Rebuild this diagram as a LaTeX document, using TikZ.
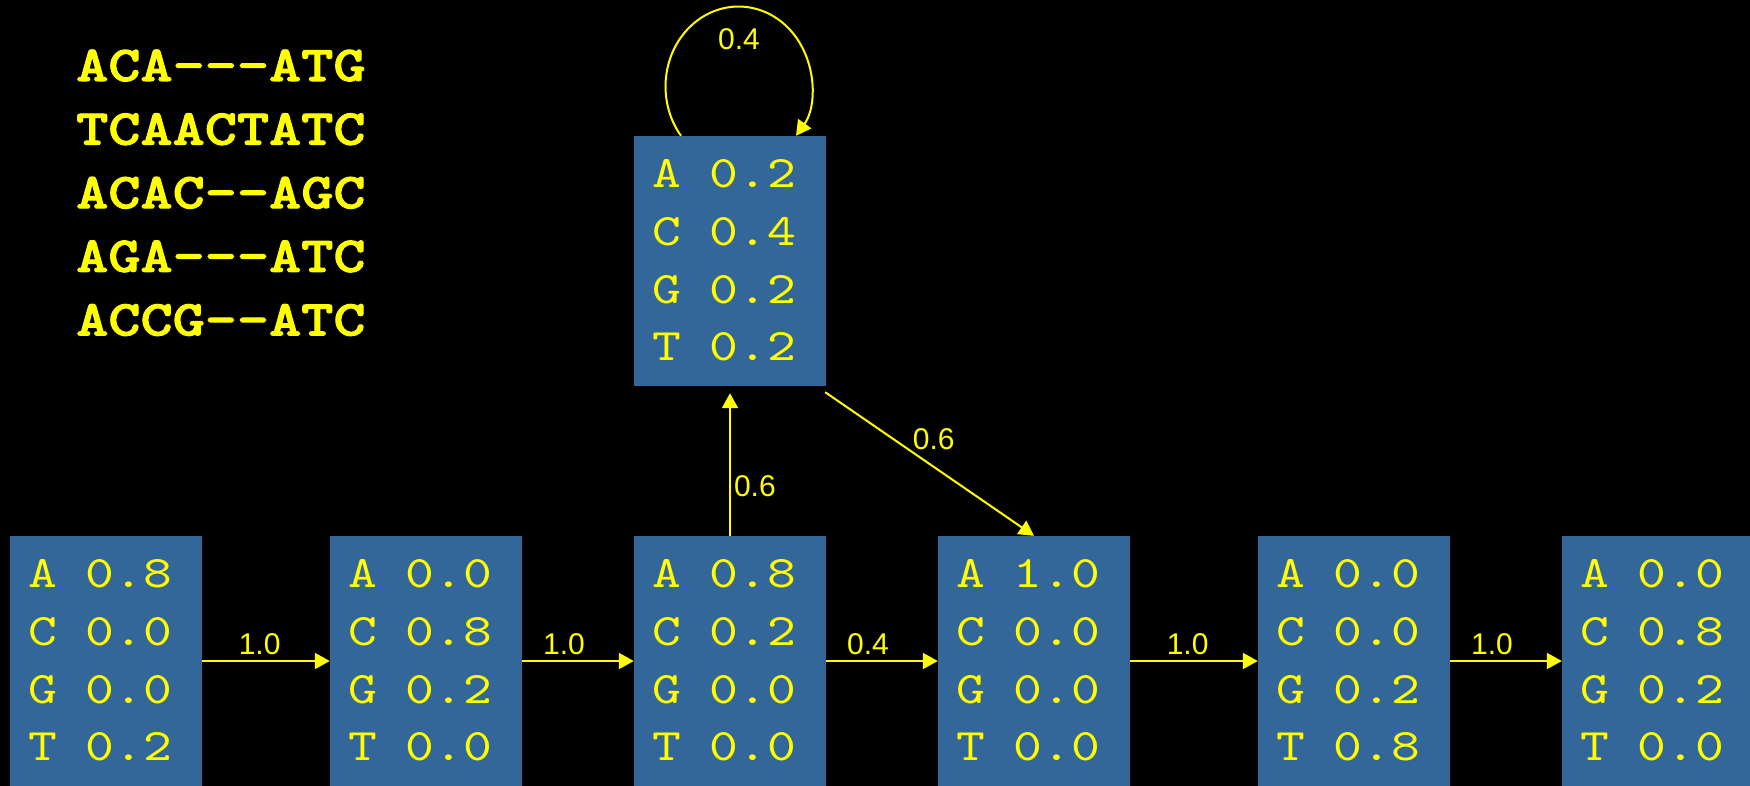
\documentclass[tikz,border=0pt]{standalone}
\usepackage{fontspec}
\setmainfont{Liberation Sans}
% typewriter face with serifs, widened to a 0.6em cell
\setmonofont{lmmono10-regular.otf}[BoldFont=lmmonolt10-bold.otf,
  BoldFeatures={FakeBold=2}, FakeStretch=1.22]
\usetikzlibrary{arrows.meta}
\definecolor{statefill}{HTML}{336699}
\definecolor{hmmyellow}{HTML}{FFFF00}

% state box with its four emission probabilities
\newcommand{\hmmstate}[6]{%
  \node[statebox] (#1) at (#2) {};
  \node[emit] (#1txt) at ([xshift=18pt,yshift=-52pt]#1.north west)
    {\vtop{\baselineskip=57.7pt\hbox{A #3}\hbox{C #4}\hbox{G #5}\hbox{T #6}}};
}

\begin{document}
\begin{tikzpicture}[x=1pt,y=1pt,
  statebox/.style={rectangle, fill=statefill, draw=none,
    minimum width=192pt, minimum height=250pt, inner sep=0pt},
  emit/.style={anchor=base west, inner sep=0pt, text=hmmyellow,
    font=\ttfamily\fontsize{45}{57.7}\selectfont},
  seq/.style={anchor=base west, inner sep=0pt, text=hmmyellow,
    font=\ttfamily\bfseries\fontsize{50.2}{63.5}\selectfont},
  edge/.style={draw=hmmyellow, line width=2pt,
    -{Triangle[length=15pt,width=16pt]}},
  prob/.style={text=hmmyellow, inner sep=0pt,
    font=\fontsize{30}{36}\selectfont}
]
\useasboundingbox (0,0) rectangle (1750,-786);
\fill[black] (0,0) rectangle (1750,-786);

% aligned sequences
\foreach \s [count=\i] in {ACA---ATG,TCAACTATC,ACAC--AGC,AGA---ATC,ACCG--ATC}
  \node[seq] (aln\i) at (76,{-81-63.6*(\i-1)}) {\s};

% match states and the insert state
\hmmstate{s1}{106,-661}{0.8}{0.0}{0.0}{0.2}
\hmmstate{s2}{426,-661}{0.0}{0.8}{0.2}{0.0}
\hmmstate{s3}{730,-661}{0.8}{0.2}{0.0}{0.0}
\hmmstate{s4}{1034,-661}{1.0}{0.0}{0.0}{0.0}
\hmmstate{s5}{1354,-661}{0.0}{0.0}{0.2}{0.8}
\hmmstate{s6}{1658,-661}{0.0}{0.8}{0.2}{0.0}
\hmmstate{ins}{730,-261}{0.2}{0.4}{0.2}{0.2}

% transitions
\draw[edge] (s1.east) -- node[prob, pos=0.45, above=5pt] (p12) {1.0} (s2.west);
\draw[edge] (s2.east) -- node[prob, pos=0.375, above=5pt] (p23) {1.0} (s3.west);
\draw[edge] (s3.east) -- node[prob, pos=0.375, above=5pt] (p34) {0.4} (s4.west);
\draw[edge] (s4.east) -- node[prob, pos=0.45, above=5pt] (p45) {1.0} (s5.west);
\draw[edge] (s5.east) -- node[prob, pos=0.375, above=5pt] (p56) {1.0} (s6.west);

\draw[edge] (s3.north) -- node[prob, pos=0.35, anchor=west, xshift=3pt] (p3i) {0.6}
  ([yshift=-7pt]ins.south);
\draw[edge] ([xshift=-1pt,yshift=-6pt]ins.south east) --
  node[prob, pos=0.41, anchor=south west, xshift=1pt] (pi4) {0.6} (s4.north);

% insert state self-loop
\draw[edge] ([xshift=-49pt]ins.north)
  arc[start angle=218, end angle=-38, x radius=73pt, y radius=80pt];
\node[prob] (pii) at (739,-39) {0.4};
\end{tikzpicture}
\end{document}
